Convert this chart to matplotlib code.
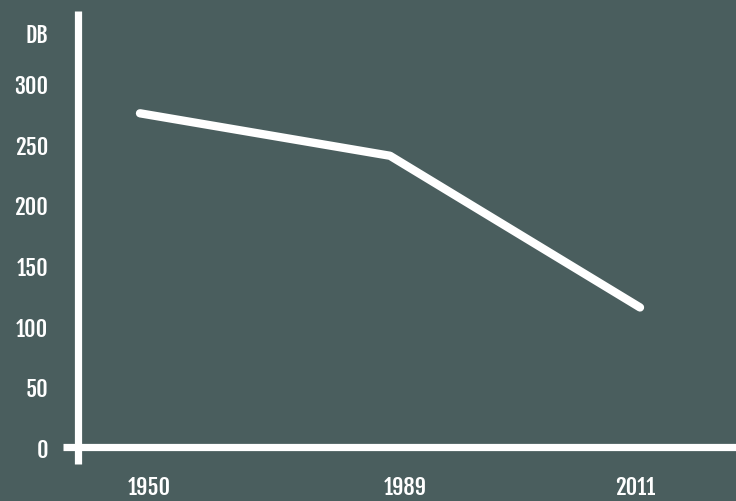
import matplotlib
matplotlib.use("Agg")
import matplotlib.pyplot as plt
from matplotlib.lines import Line2D
import matplotlib.transforms as mtransforms

categories = ["1950", "1989", "2011"]
values = [275, 240, 115]
y_ticks = [0, 50, 100, 150, 200, 250, 300]
y_unit_label = "DB"

BG = "#4a5e5e"
FG = "#ffffff"

plt.rcParams["font.family"] = ["Fjalla One", "DejaVu Sans"]
FS = 16

fig = plt.figure(figsize=(7.36, 5.02), dpi=100, facecolor=BG)
W, H = 736, 502
left_px, bottom_px, top_px = 78, 448, 12
ax = fig.add_axes([left_px / W, (H - bottom_px) / H, (W - left_px) / W, (bottom_px - top_px) / H])
ax.set_facecolor(BG)
for s in ax.spines.values():
    s.set_visible(False)

x = list(range(len(categories)))
ax.plot(x, values, color=FG, lw=6, solid_capstyle="round", solid_joinstyle="round", zorder=3)

ax.set_xlim(-0.248, 2.384)
ax.set_ylim(0, 359.3)

# axis lines
ax.add_line(Line2D([0, 0], [-17 / 436, 1], transform=ax.transAxes, color=FG, lw=5.2,
                   solid_capstyle="butt", clip_on=False, zorder=4))
ax.add_line(Line2D([-15 / 658, 1], [0, 0], transform=ax.transAxes, color=FG, lw=5.2,
                   solid_capstyle="butt", clip_on=False, zorder=4))

ax.set_yticks(y_ticks)
ax.set_yticklabels([str(v) for v in y_ticks])
ax.set_xticks(x)
ax.set_xticklabels(categories)
ax.tick_params(axis="both", length=0, colors=FG, labelsize=FS)
ax.tick_params(axis="y", pad=21.6)
ax.tick_params(axis="x", pad=19.5)
for lab in ax.get_yticklabels() + ax.get_xticklabels():
    lab.set_color(FG)

offsets = [9, 15, -5]
for lab, dx in zip(ax.get_xticklabels(), offsets):
    lab.set_transform(lab.get_transform() + mtransforms.ScaledTranslation(dx / 100, 0, fig.dpi_scale_trans))

ax.text(-30 / 658, 340, y_unit_label, transform=ax.get_yaxis_transform(), ha="right", va="center",
        color=FG, fontsize=FS)

fig.savefig("out.png", dpi=100, facecolor=BG)
